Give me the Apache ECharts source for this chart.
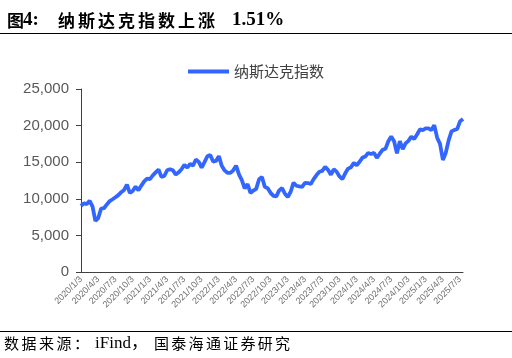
<!DOCTYPE html>
<html><head><meta charset="utf-8">
<script src="https://cdn.jsdelivr.net/npm/echarts@6/dist/echarts.min.js"></script>
<style>html,body{margin:0;padding:0;background:#fff}#c{width:512px;height:358px}</style>
</head><body><div id="c"></div>
<script>
var categories = [
'2020/1/3','2020/1/18','2020/2/3','2020/2/18','2020/3/3','2020/3/18','2020/4/3','2020/4/18','2020/5/3','2020/5/18','2020/6/3','2020/6/18','2020/7/3','2020/7/18','2020/8/3','2020/8/18','2020/9/3','2020/9/18','2020/10/3','2020/10/18','2020/11/3','2020/11/18','2020/12/3','2020/12/18',
'2021/1/3','2021/1/18','2021/2/3','2021/2/18','2021/3/3','2021/3/18','2021/4/3','2021/4/18','2021/5/3','2021/5/18','2021/6/3','2021/6/18','2021/7/3','2021/7/18','2021/8/3','2021/8/18','2021/9/3','2021/9/18','2021/10/3','2021/10/18','2021/11/3','2021/11/18','2021/12/3','2021/12/18',
'2022/1/3','2022/1/18','2022/2/3','2022/2/18','2022/3/3','2022/3/18','2022/4/3','2022/4/18','2022/5/3','2022/5/18','2022/6/3','2022/6/18','2022/7/3','2022/7/18','2022/8/3','2022/8/18','2022/9/3','2022/9/18','2022/10/3','2022/10/18','2022/11/3','2022/11/18','2022/12/3','2022/12/18',
'2023/1/3','2023/1/18','2023/2/3','2023/2/18','2023/3/3','2023/3/18','2023/4/3','2023/4/18','2023/5/3','2023/5/18','2023/6/3','2023/6/18','2023/7/3','2023/7/18','2023/8/3','2023/8/18','2023/9/3','2023/9/18','2023/10/3','2023/10/18','2023/11/3','2023/11/18','2023/12/3','2023/12/18',
'2024/1/3','2024/1/18','2024/2/3','2024/2/18','2024/3/3','2024/3/18','2024/4/3','2024/4/18','2024/5/3','2024/5/18','2024/6/3','2024/6/18','2024/7/3','2024/7/18','2024/8/3','2024/8/18','2024/9/3','2024/9/18','2024/10/3','2024/10/18','2024/11/3','2024/11/18','2024/12/3','2024/12/18',
'2025/1/3','2025/1/18','2025/2/3','2025/2/18','2025/3/3','2025/3/18','2025/4/3','2025/4/18','2025/5/3','2025/5/18','2025/6/3','2025/6/18','2025/7/3','2025/7/18'
];
var nasdaq = [
9020,9389,9273,9732,8952,6989,7373,8650,8710,9234,9683,9943,10208,10503,10903,11210,11950,10793,11075,11672,11160,11801,12377,12756,
12698,13197,13610,14000,12998,13116,13900,14050,13895,13303,13614,14030,14639,14275,14761,14525,15363,15044,14255,15021,15812,15993,15085,15170,
15833,14506,13878,13548,13537,13894,14532,13332,12563,11418,12012,10798,11127,11360,12668,12966,11631,11448,10815,10400,10342,11146,11461,10705,
10250,10957,12200,11787,11689,11630,12189,12153,12025,12688,13241,13689,13816,14353,13959,13290,14031,13710,13059,12700,13478,14125,14305,14905,
14592,15055,15629,15775,16274,16103,16277,15601,16156,16686,16828,17862,18500,17871,16200,17877,16800,17573,17918,18489,18179,18791,19481,19392,
19622,19630,19391,20056,18350,17504,15300,16286,17977,19211,19399,19546,20601,20896
];
var seriesName = '纳斯达克指数';
var titlePrefix = '4:';
var titleChars = '纳斯达克指数上涨';
var titleNumber = '1.51%';
var sourceHead = '数据来源：';
var sourceMid = 'iFind，';
var sourceTail = '国泰海通证券研究';

var serifCJK = '"Liberation Serif", "Noto Sans CJK SC", serif';
var graphics = [
  {type:'line', shape:{x1:0,y1:33.5,x2:512,y2:33.5}, style:{stroke:'#000',lineWidth:1}},
  {type:'line', shape:{x1:0,y1:331.5,x2:512,y2:331.5}, style:{stroke:'#000',lineWidth:1}},
  {type:'text', x:7, y:12, style:{text:'图', fill:'#000', font:'bold 17px "Noto Sans CJK SC"'}},
  {type:'text', x:23, y:11, style:{text:titlePrefix, fill:'#000', font:'bold 19px "Liberation Serif", serif'}},
  {type:'text', x:232, y:11, style:{text:titleNumber, fill:'#000', font:'bold 19px "Liberation Serif", serif'}},
  {type:'text', x:95, y:335, style:{text:sourceMid, fill:'#000', font:'17px ' + serifCJK}}
];
var k;
for (k = 0; k < titleChars.length; k++) {
  graphics.push({type:'text', x:58 + k*20, y:12, style:{text:titleChars.charAt(k), fill:'#000', font:'bold 17px "Noto Sans CJK SC"'}});
}
for (k = 0; k < sourceHead.length; k++) {
  graphics.push({type:'text', x:4 + k*17.5, y:336, style:{text:sourceHead.charAt(k), fill:'#000', font:'15px "Noto Sans CJK SC"'}});
}
for (k = 0; k < sourceTail.length; k++) {
  graphics.push({type:'text', x:154 + k*17.3, y:336, style:{text:sourceTail.charAt(k), fill:'#000', font:'15px "Noto Sans CJK SC"'}});
}

var chart = echarts.init(document.getElementById('c'), null, {renderer:'canvas'});
chart.setOption({
  animation:false,
  backgroundColor:'#fff',
  graphic:graphics,
  legend:{
    top:59, left:'center',
    itemWidth:41, itemHeight:4, itemGap:10,
    icon:'rect',
    textStyle:{fontFamily:'"Noto Sans CJK SC", sans-serif', fontSize:15, color:'#404040', padding:[0,0,0,0]},
    data:[seriesName]
  },
  grid:{left:81, right:49, top:89, bottom:86, containLabel:false},
  xAxis:{
    type:'category', data:categories, boundaryGap:false,
    axisLine:{lineStyle:{color:'#404040', width:1}},
    axisTick:{show:false},
    axisLabel:{interval:5, rotate:45, fontSize:9, color:'#6f6f6f', margin:6, fontFamily:'"Liberation Sans", Arial, sans-serif'}
  },
  yAxis:{
    type:'value', min:0, max:25000, interval:5000,
    axisLine:{show:true, lineStyle:{color:'#404040', width:1}},
    axisTick:{show:true, length:5, lineStyle:{color:'#404040'}},
    splitLine:{show:false},
    axisLabel:{fontSize:15, color:'#595959', margin:12, fontFamily:'"Liberation Sans", Arial, sans-serif',
      formatter:function(v){return v.toLocaleString('en-US');}}
  },
  series:[{
    name:seriesName, type:'line', data:nasdaq, showSymbol:false, symbol:'none',
    lineStyle:{color:'#3366FF', width:3.8}, itemStyle:{color:'#3366FF'}
  }]
});
</script></body></html>
